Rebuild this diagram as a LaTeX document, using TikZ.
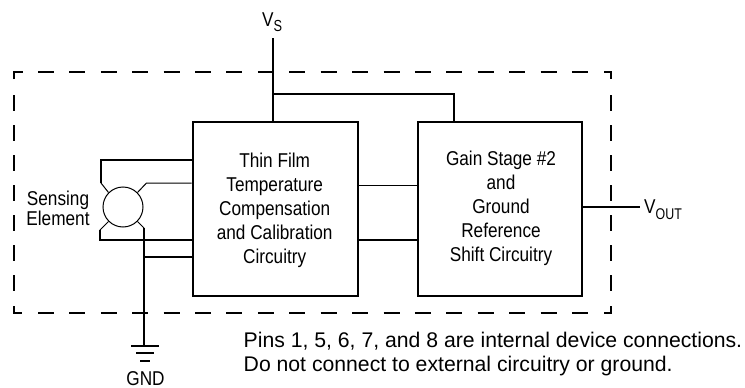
\documentclass[tikz,border=0pt]{standalone}
\usepackage{fontspec}
\setmainfont{Liberation Sans}
\newfontfamily\sqz[FakeStretch=0.86]{Liberation Sans}
\newfontfamily\sqzsub[FakeStretch=0.80]{Liberation Sans}
\begin{document}
\begin{tikzpicture}[x=1pt,y=-1pt,
  wire/.style={line width=2pt,line cap=butt,line join=miter},
  thin wire/.style={line width=1pt},
  dashline/.style={line width=2pt,dash pattern=on 16pt off 15.41pt},
  dashlinev/.style={line width=2pt,dash pattern=on 16pt off 14pt},
  blockbox/.style={draw,line width=2pt,inner sep=0pt},
  lbl/.style={font=\sqz\fontsize{20}{24}\selectfont,align=center,inner sep=0pt},
  sub/.style={font=\sqz\fontsize{20}{24}\selectfont,inner sep=0pt}]
\useasboundingbox (0,0) rectangle (745,388);
% dashed enclosure
\draw[wire] (14,79) -- (14,72) -- (23,72);
\draw[wire] (604,72) -- (611,72) -- (611,79);
\draw[wire] (14,306) -- (14,313) -- (22,313);
\draw[wire] (604,313) -- (611,313) -- (611,306);
\draw[dashline] (38,72) -- (588,72);
\draw[dashline] (38,313) -- (588,313);
\draw[dashlinev] (14,95) -- (14,291);
\draw[dashlinev] (611,95) -- (611,291);
% blocks
\node[blockbox,minimum width=165pt,minimum height=173.5pt] (comp) at (275,208.75) {};
\node[blockbox,minimum width=163.5pt,minimum height=173.5pt] (gain) at (499.75,208.75) {};
\node[lbl] (complbl) at (274.7,211) {\strut Thin Film\\\strut Temperature\\\strut Compensation\\\strut and Calibration\\\strut Circuitry};
\node[lbl] (gainlbl) at (501,209) {\strut Gain Stage \#2\\\strut and\\\strut Ground\\\strut Reference\\\strut Shift Circuitry};
% sensor
\node[draw,circle,line width=1pt,minimum size=40pt,inner sep=0pt] (sens) at (123,207) {};
\node[lbl,font=\sqz\fontsize{20}{20}\selectfont] (senslbl) at (58,208) {Sensing\\Element};
% coordinates
\coordinate (ul1) at (101,183); \coordinate (ul2) at (101,160);
\coordinate (ur1) at (146.5,183);
\coordinate (ll1) at (100,230); \coordinate (ll2) at (100,240);
\coordinate (lr1) at (144,228);
\coordinate (gndtop) at (144,345);
\coordinate (gndtap) at (144,257);
\coordinate (g1a) at (131,346); \coordinate (g1b) at (159,346);
\coordinate (g2a) at (136,353); \coordinate (g2b) at (154,353);
\coordinate (g3a) at (140,361); \coordinate (g3b) at (150,361);
\coordinate (vstop) at (273,38);
\coordinate (vsb) at (273,94);
\coordinate (vsc) at (454,94);
\coordinate (mid) at (357,185);
\coordinate (vout) at (640,207);
% sensor wiring
\draw[thin wire] (sens.135) -- (ul1);
\draw[wire] (ul1) -- (ul2) -- (ul2 -| comp.west);
\draw[thin wire] (sens.45) -- (ur1) -- (ur1 -| comp.west);
\draw[thin wire] (sens.225) -- (ll1);
\draw[wire] (ll1) -- (ll2) -- (ll2 -| comp.west);
\draw[thin wire] (sens.315) -- (lr1);
\draw[wire] (lr1) -- (gndtop);
\draw[wire] (gndtap) -- (gndtap -| comp.west);
% ground
\draw[wire] (g1a) -- (g1b);
\draw[wire] (g2a) -- (g2b);
\draw[wire] (g3a) -- (g3b);
\node[sub,anchor=base] (gnd) at (145.5,385) {GND};
% supply
\draw[wire] (vstop) -- (vstop |- comp.north);
\draw[wire] (vsb) -- (vsc) -- (vsc |- gain.north);
\node[sub,anchor=base west] (vs) at (262,26) {V\raisebox{-5.5pt}{\sqzsub\fontsize{16}{18}\selectfont S}};
% between blocks
\draw[thin wire] (mid -| comp.east) -- (mid -| gain.west);
\draw[wire] (comp.east |- ll2) -- (gain.west |- ll2);
% output
\draw[wire] (gain.east |- vout) -- (vout);
\node[sub,anchor=base west] (voutl) at (644,213) {V\raisebox{-6pt}{\sqzsub\fontsize{15.5}{18}\selectfont OUT}};
% note
\node[align=left,inner sep=0pt,anchor=base west,font=\fontsize{21.2}{24}\selectfont] (note) at (243.5,371.5) {Pins 1, 5, 6, 7, and 8 are internal device connections.\\Do not connect to external circuitry or ground.};
\end{tikzpicture}
\end{document}
